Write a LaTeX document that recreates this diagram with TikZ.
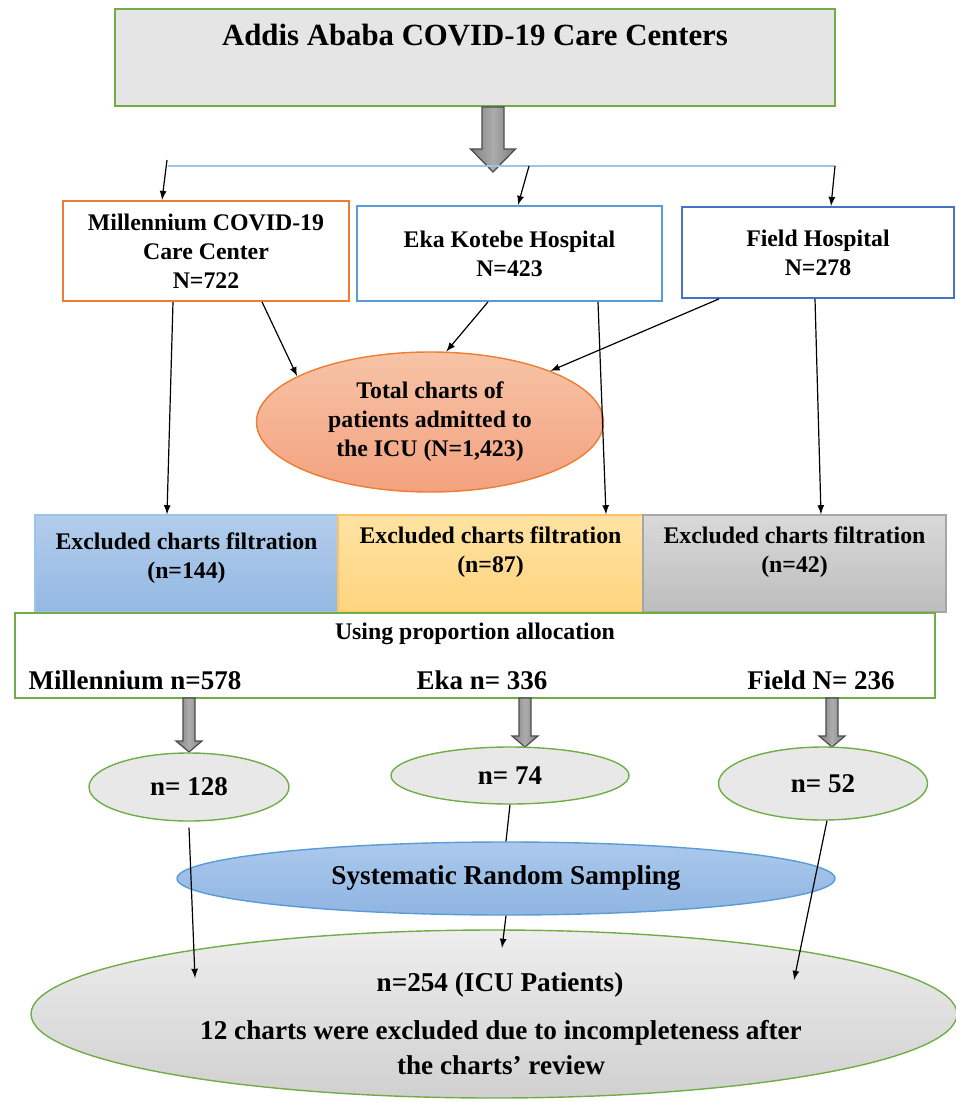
\documentclass[tikz,border=0pt]{standalone}
\usepackage{fontspec}
\setmainfont{Liberation Serif}
\usetikzlibrary{arrows}
\usetikzlibrary{shapes.geometric, positioning, calc}
\usepackage{xcolor}

\definecolor{boxgreen}{HTML}{70AD47}
\definecolor{boxorange}{HTML}{ED7D31}
\definecolor{lineblue}{HTML}{9DC3E6}
\definecolor{ekablue}{HTML}{5B9BD5}
\definecolor{fieldblue}{HTML}{4472C4}
\definecolor{salmontop}{HTML}{F7C3A6}
\definecolor{salmonbot}{HTML}{F3A27F}
\definecolor{exbluetop}{HTML}{B3CDEB}
\definecolor{exbluebot}{HTML}{93B8E3}
\definecolor{exyeltop}{HTML}{FFE3A3}
\definecolor{exyelbot}{HTML}{FFD47E}
\definecolor{exgraytop}{HTML}{D9D9D9}
\definecolor{exgraybot}{HTML}{BDBDBD}
\definecolor{sysblutop}{HTML}{ABC9EC}
\definecolor{sysblubot}{HTML}{8FB5E2}
\definecolor{fintop}{HTML}{EEEEEE}
\definecolor{finbot}{HTML}{D0D0D0}

\begin{document}
\begin{tikzpicture}[x=0.5pt, y=-0.5pt, >=latex,
    txt/.style={font=\fontsize{11.9}{14.5}\selectfont\bfseries, align=center, inner sep=0pt},
    bigtxt/.style={font=\fontsize{13.5}{17.5}\selectfont\bfseries, align=center, inner sep=0pt},
    centrebox/.style={rectangle, draw, line width=0.9pt, fill=white, inner sep=0pt},
    exbox/.style={rectangle, line width=0.6pt, inner sep=0pt, minimum height=48.5pt},
    oval/.style={ellipse, draw=boxgreen, line width=0.7pt, inner sep=0pt},
    blockarrow/.style={draw=black!70, line width=0.6pt, left color=gray!100, right color=gray!100, middle color=gray!65},
    conn/.style={->, black, line width=0.6pt}]

  \useasboundingbox (0,0) rectangle (956,1102);

  % top box
  \node[rectangle, draw=boxgreen, line width=1pt, fill=gray!20, minimum width=360pt, minimum height=48.5pt] (top) at (475,57.5) {};
  \node[font=\fontsize{15.4}{18}\selectfont\bfseries, inner sep=0pt] (toptext) at (475,35) {Addis Ababa COVID-19 Care Centers};

  \draw[blockarrow] ([xshift=9pt]top.south) ++(-11,0) -- ++(22,0) -- ++(0,42) -- ++(11.5,0) -- ++(-22.5,23) -- ++(-22.5,-23) -- ++(11.5,0) -- cycle;

  % split line
  \coordinate (hl) at (168,166);
  \coordinate (hr) at (835,166);
  \draw[lineblue, line width=1pt] (hl) -- (hr);

  % care centers
  \node[centrebox, txt, draw=boxorange, minimum width=143pt, minimum height=50pt] (mil) at (206,251) {Millennium COVID-19\\Care Center\\N=722};
  \node[centrebox, txt, draw=ekablue, minimum width=152.5pt, minimum height=47.5pt] (eka) at (509.5,253.5) {Eka Kotebe Hospital\\N=423};
  \node[centrebox, txt, draw=fieldblue, minimum width=136pt, minimum height=45.5pt] (fld) at (818,252.5) {Field Hospital\\N=278};

  \coordinate (b1) at (167,160);
  \coordinate (b2) at (529,166);
  \draw[conn] (b1) -- ([xshift=-22pt]mil.north);
  \draw[conn] (b2) -- ([xshift=4.25pt]eka.north);
  \draw[conn] (hr) -- ([xshift=6.5pt]fld.north);

  % total charts
  \node[ellipse, draw=boxorange, line width=0.7pt, top color=salmontop, bottom color=salmonbot, txt, minimum width=173.5pt, minimum height=70pt] (total) at (430,422) {Total charts of\\patients admitted to\\the ICU (N=1,423)};

  \draw[conn] ([xshift=28pt]mil.south) -- (total.161);
  \draw[conn] ([xshift=-10.75pt]eka.south) -- (total.77);
  \draw[conn] ([xshift=-49.5pt]fld.south) -- (total.23);

  % excluded charts
  \node[exbox, draw=lineblue, top color=exbluetop, bottom color=exbluebot, minimum width=151.5pt] (ex1) at (186.5,563.5) {};
  \node[exbox, draw=exyelbot!80!orange, top color=exyeltop, bottom color=exyelbot, minimum width=152.5pt] (ex2) at (490.5,563.5) {};
  \node[exbox, draw=gray!70, top color=exgraytop, bottom color=exgraybot, minimum width=151.5pt] (ex3) at (794.5,563.5) {};
  \node[txt, yshift=2.75pt] (ex1t) at (ex1) {Excluded charts filtration\\(n=144)};
  \node[txt, yshift=5.75pt] (ex2t) at (ex2) {Excluded charts filtration\\(n=87)};
  \node[txt, yshift=5.75pt] (ex3t) at (ex3) {Excluded charts filtration\\(n=42)};

  \draw[conn] ([xshift=-16.5pt]mil.south) -- ([xshift=-9.75pt]ex1.north);
  \draw[conn] ([xshift=44.25pt]eka.south) -- ([xshift=57.75pt]ex2.north);
  \draw[conn] ([xshift=-1.5pt]fld.south) -- ([xshift=13.25pt]ex3.north);

  % proportion allocation
  \node[rectangle, draw=boxgreen, line width=0.9pt, fill=white, minimum width=460pt, minimum height=42.5pt] (prop) at (475,655.5) {};
  \node[txt] (proptext) at (475,634) {Using proportion allocation};
  \node[bigtxt] (mila) at (135,680) {Millennium n=578};
  \node[bigtxt] (ekaa) at (482,680) {Eka n= 336};
  \node[bigtxt] (flda) at (821,680) {Field N= 236};

  \foreach \ax/\tip in {189/752, 525/747, 832/747}
    \draw[blockarrow] (\ax-6,698) -- (\ax+6,698) -- (\ax+6,\tip-11) -- (\ax+13,\tip-11) -- (\ax,\tip) -- (\ax-13,\tip-11) -- (\ax-6,\tip-11) -- cycle;

  % samples per center
  \node[oval, fill=gray!18, bigtxt, minimum width=100pt, minimum height=34pt] (s1) at (189,787) {n= 128};
  \node[oval, fill=gray!18, bigtxt, minimum width=119pt, minimum height=28.5pt] (s2) at (510,775.5) {n= 74};
  \node[oval, fill=gray!18, bigtxt, minimum width=104.5pt, minimum height=36.5pt] (s3) at (823,783.5) {n= 52};

  % systematic sampling
  \node[ellipse, draw=ekablue, line width=0.7pt, top color=sysblutop, bottom color=sysblubot, font=\fontsize{13.6}{16}\selectfont\bfseries, inner sep=0pt, minimum width=329pt, minimum height=36.5pt] (sys) at (506,878.5) {Systematic Random Sampling};

  % final sample
  \node[oval, top color=fintop, bottom color=finbot, minimum width=463pt, minimum height=84pt] (fin) at (494,1014) {};
  \node[bigtxt, font=\fontsize{13.6}{17.5}\selectfont\bfseries] (fin1) at (500,985) {n=254 (ICU Patients)};
  \node[bigtxt, font=\fontsize{13.6}{17.5}\selectfont\bfseries] (fin2) at (501,1047.5) {12 charts were excluded due to incompleteness after\\the charts’ review};

  \coordinate (f1) at (195,978);
  \coordinate (f2) at (502,948);
  \coordinate (f3) at (794,980);
  \draw[black, line width=0.6pt] (s2.south) -- (sys.north);
  \draw[conn] ([yshift=-3pt]s1.south) -- (f1);
  \draw[conn] (sys.south) -- (f2);
  \draw[conn] ([xshift=2pt]s3.south) -- (f3);

\end{tikzpicture}
\end{document}
